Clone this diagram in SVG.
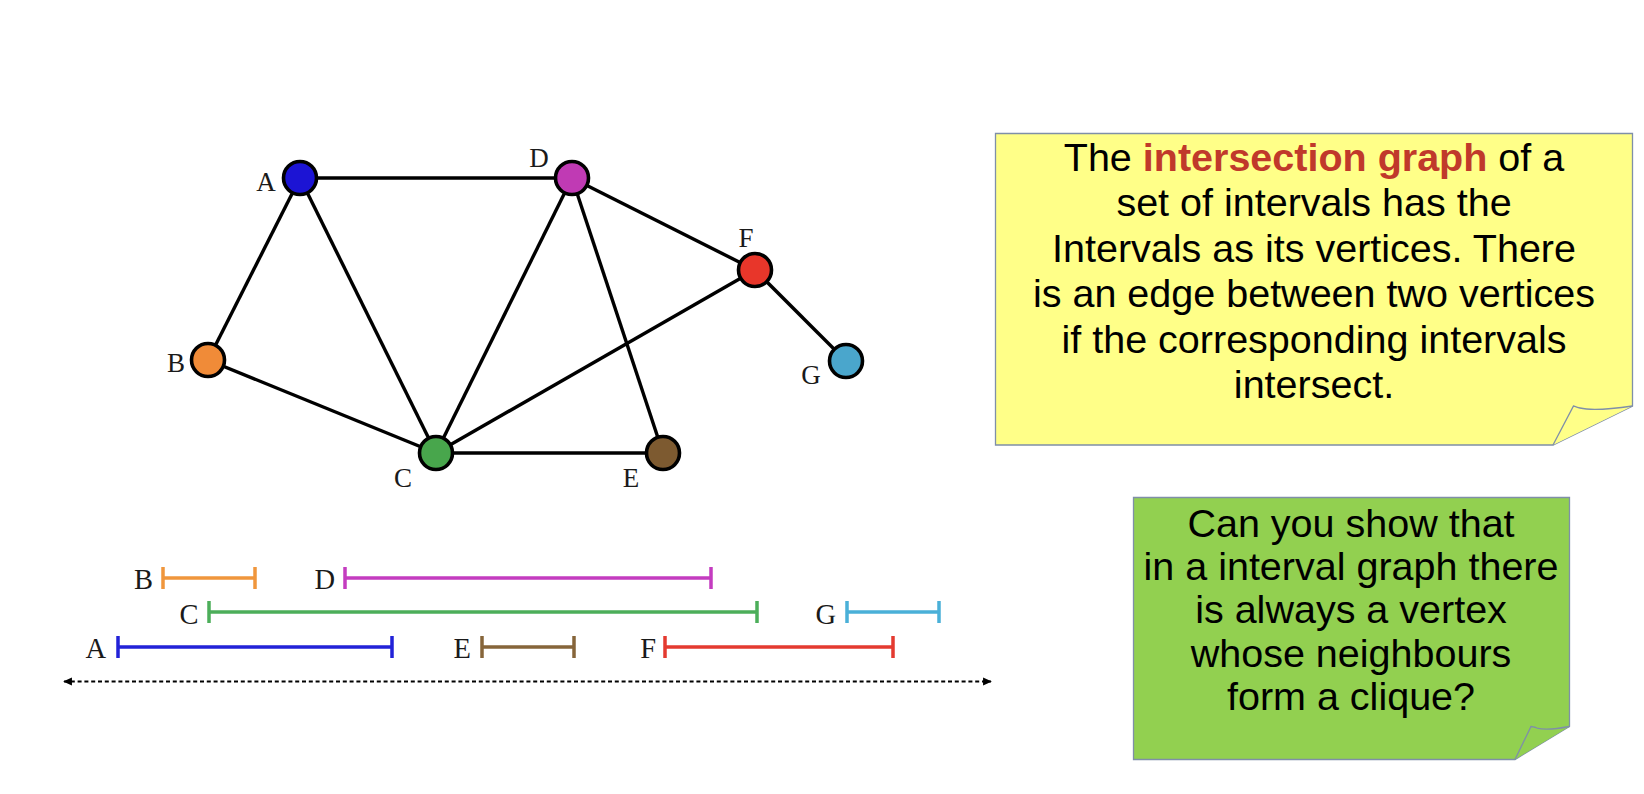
<svg xmlns="http://www.w3.org/2000/svg" width="1644" height="794" viewBox="0 0 1644 794">
<defs>
<style>
.edge{stroke:#000;stroke-width:3.4;fill:none}
.node{stroke:#000;stroke-width:3.6}
.lbl{font-family:"Liberation Serif","DejaVu Serif",serif;font-size:27px;fill:#1a1a1a}
.ilbl{font-family:"Liberation Serif","DejaVu Serif",serif;font-size:28.5px;fill:#1a1a1a;text-anchor:end}
.iv{stroke-width:3.5;fill:none}
.note{font-family:"Liberation Sans",Arial,sans-serif;font-size:39.5px;fill:#000;text-anchor:middle}
.hl{fill:#c0392b;font-weight:bold}
.box{stroke:#7f8fa8;stroke-width:1.3}
</style>
<marker id="arr" viewBox="0 0 10 10" refX="9" refY="5" markerWidth="4" markerHeight="4" orient="auto-start-reverse" markerUnits="strokeWidth">
<path d="M0,0.5 L10,5 L0,9.5 Z" fill="#000"/>
</marker>
</defs>
<rect width="1644" height="794" fill="#fff"/>

<g id="connectors">
<line class="edge" x1="300" y1="178" x2="572" y2="178"/>
<line class="edge" x1="300" y1="178" x2="208" y2="360"/>
<line class="edge" x1="300" y1="178" x2="436" y2="453"/>
<line class="edge" x1="208" y1="360" x2="436" y2="453"/>
<line class="edge" x1="572" y1="178" x2="436" y2="453"/>
<line class="edge" x1="572" y1="178" x2="663" y2="453"/>
<line class="edge" x1="572" y1="178" x2="755" y2="270"/>
<line class="edge" x1="436" y1="453" x2="755" y2="270"/>
<line class="edge" x1="436" y1="453" x2="663" y2="453"/>
<line class="edge" x1="755" y1="270" x2="846" y2="361"/>
</g>

<g id="node-A"><circle class="node" cx="300" cy="178" r="16.5" fill="#1c14d4"/><text class="lbl" x="266" y="190.5" text-anchor="middle">A</text></g>
<g id="node-D"><circle class="node" cx="572" cy="178" r="16.5" fill="#c03ab4"/><text class="lbl" x="539" y="167" text-anchor="middle">D</text></g>
<g id="node-F"><circle class="node" cx="755" cy="270" r="16.5" fill="#e8362a"/><text class="lbl" x="746" y="246.5" text-anchor="middle">F</text></g>
<g id="node-G"><circle class="node" cx="846" cy="361" r="16.5" fill="#4aa6cc"/><text class="lbl" x="811" y="383.5" text-anchor="middle">G</text></g>
<g id="node-B"><circle class="node" cx="208" cy="360" r="16.5" fill="#f08b38"/><text class="lbl" x="176" y="371.5" text-anchor="middle">B</text></g>
<g id="node-C"><circle class="node" cx="436" cy="453" r="16.5" fill="#48a64c"/><text class="lbl" x="403" y="486.5" text-anchor="middle">C</text></g>
<g id="node-E"><circle class="node" cx="663" cy="453" r="16.5" fill="#7d5a30"/><text class="lbl" x="631" y="486.5" text-anchor="middle">E</text></g>

<g id="intervals">
<g id="interval-B" stroke="#f0963c"><path class="iv" d="M163,578 H255 M163,567 V589 M255,567 V589"/><text class="ilbl" x="153" y="589" stroke="none">B</text></g>
<g id="interval-D" stroke="#c43cc0"><path class="iv" d="M345,578 H711 M345,567 V589 M711,567 V589"/><text class="ilbl" x="335" y="589" stroke="none">D</text></g>
<g id="interval-C" stroke="#4cae5a"><path class="iv" d="M209,612 H757 M209,601 V623 M757,601 V623"/><text class="ilbl" x="198.5" y="624" stroke="none">C</text></g>
<g id="interval-G" stroke="#4ab0d8"><path class="iv" d="M847,612 H939 M847,601 V623 M939,601 V623"/><text class="ilbl" x="836" y="624" stroke="none">G</text></g>
<g id="interval-A" stroke="#2222d8"><path class="iv" d="M118,647 H392 M118,636 V658 M392,636 V658"/><text class="ilbl" x="106" y="658" stroke="none">A</text></g>
<g id="interval-E" stroke="#86653a"><path class="iv" d="M482,647 H574 M482,636 V658 M574,636 V658"/><text class="ilbl" x="471" y="658" stroke="none">E</text></g>
<g id="interval-F" stroke="#e43a30"><path class="iv" d="M665,647 H893 M665,636 V658 M893,636 V658"/><text class="ilbl" x="656" y="658" stroke="none">F</text></g>
<line id="axis" x1="64" y1="681.5" x2="991" y2="681.5" stroke="#000" stroke-width="2.2" stroke-dasharray="4,2.8" marker-start="url(#arr)" marker-end="url(#arr)"/>
</g>

<g id="note-definition">
<path class="box" d="M995.5,133.5 H1632.5 V406 L1553,445 H995.5 Z" fill="#ffff88"/>
<path class="box" d="M1632.5,406 C1612,409 1592,411 1580,408 C1576,407 1574,406 1573.5,406 L1553,445" fill="#ffff88"/>
<text class="note" x="1314" y="170.5">The <tspan class="hl">intersection graph</tspan> of a</text>
<text class="note" x="1314" y="216">set of intervals has the</text>
<text class="note" x="1314" y="261.5">Intervals as its vertices. There</text>
<text class="note" x="1314" y="307">is an edge between two vertices</text>
<text class="note" x="1314" y="352.5">if the corresponding intervals</text>
<text class="note" x="1314" y="398">intersect.</text>
</g>

<g id="note-question">
<path class="box" d="M1133.5,497.5 H1569.5 V726.5 L1515,759.5 H1133.5 Z" fill="#92d050"/>
<path class="box" d="M1569.5,726.5 C1556,729 1544,730 1537,728 C1534,727 1532,726.5 1531,726.5 L1515,759.5" fill="#92d050"/>
<text class="note" x="1351" y="536.5">Can you show that</text>
<text class="note" x="1351" y="580">in a interval graph there</text>
<text class="note" x="1351" y="623.3">is always a vertex</text>
<text class="note" x="1351" y="666.6">whose neighbours</text>
<text class="note" x="1351" y="710">form a clique?</text>
</g>
</svg>
